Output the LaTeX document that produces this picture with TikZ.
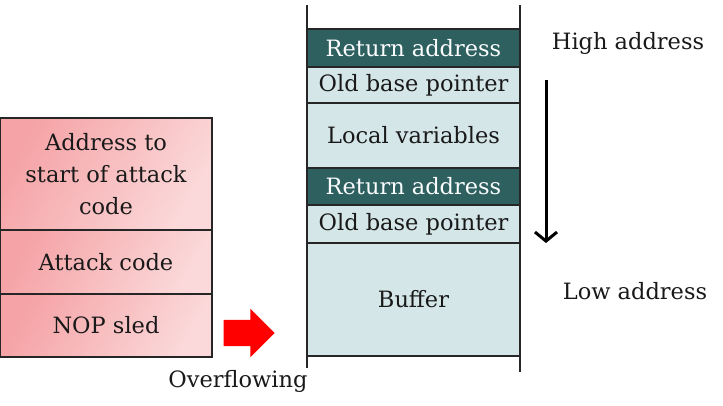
\documentclass[tikz,border=0pt]{standalone}
\usepackage{fontspec}
\setmainfont{DejaVu Serif}
\usetikzlibrary{arrows.meta,positioning,shapes.arrows}
\definecolor{stackpale}{HTML}{D5E6E8}
\definecolor{stackdark}{HTML}{2E6060}
\definecolor{edgegray}{HTML}{262626}
\definecolor{sledpink}{HTML}{F5A3A6}
\definecolor{sledlight}{HTML}{FBD9DA}

\begin{document}
\begin{tikzpicture}[
  x=1pt, y=-1pt,
  node distance=0pt,
  cell/.style={draw=edgegray, line width=1.6pt, minimum width=213pt, inner sep=0pt, outer sep=0pt, align=center, font=\fontsize{22.5}{32}\selectfont, text=black!90},
  pale/.style={cell, fill=stackpale},
  dark/.style={cell, fill=stackdark, text=white!90!stackpale},
  payload/.style={cell, minimum width=212pt, line width=1.2pt, left color=sledpink, right color=sledlight, shading angle=60},
  sidetext/.style={font=\fontsize{22.5}{24}\selectfont, text=black!90},
  wall/.style={draw=edgegray, line width=2pt},
  downline/.style={line width=3pt, -{Straight Barb[length=9pt, width=22pt]}}
]
\useasboundingbox (0,0) rectangle (723,405);

% stack frame
\node[dark, minimum height=38pt, anchor=north] (ret1) at (413.5,29) {Return address};
\node[pale, minimum height=36pt, below=of ret1] (bp1) {Old base pointer};
\node[pale, minimum height=65pt, below=of bp1] (locals) {Local variables};
\node[dark, minimum height=37pt, below=of locals] (ret2) {Return address};
\node[pale, minimum height=38pt, below=of ret2] (bp2) {Old base pointer};
\node[pale, minimum height=113pt, below=of bp2] (buffer) {Buffer};

\coordinate (lwtop) at (307,5);
\coordinate (lwbot) at (307,368);
\coordinate (rwtop) at (520,5);
\coordinate (rwbot) at (520,372);
\draw[wall] (lwtop) -- (lwbot);
\draw[wall] (rwtop) -- (rwbot);

% attack payload
\node[payload, minimum height=112pt, anchor=north] (retaddr) at (106,118) {Address to\\start of attack\\code};
\node[payload, minimum height=64pt, below=of retaddr] (shell) {Attack code};
\node[payload, minimum height=63pt, below=of shell] (nop) {NOP sled};

\node[single arrow, fill=red, inner sep=13pt, minimum height=51pt, minimum width=48pt, single arrow head extend=11pt] (push) at (242.5,333) {};
\node[sidetext] (over) at (238,381) {Overflowing};

% address direction
\node[sidetext] (high) at (628,43) {High address};
\node[sidetext] (low) at (635,291) {Low address};
\coordinate (hi) at (546,80);
\coordinate (lo) at (546,243);
\draw[downline] (hi) -- (lo);
\end{tikzpicture}
\end{document}
